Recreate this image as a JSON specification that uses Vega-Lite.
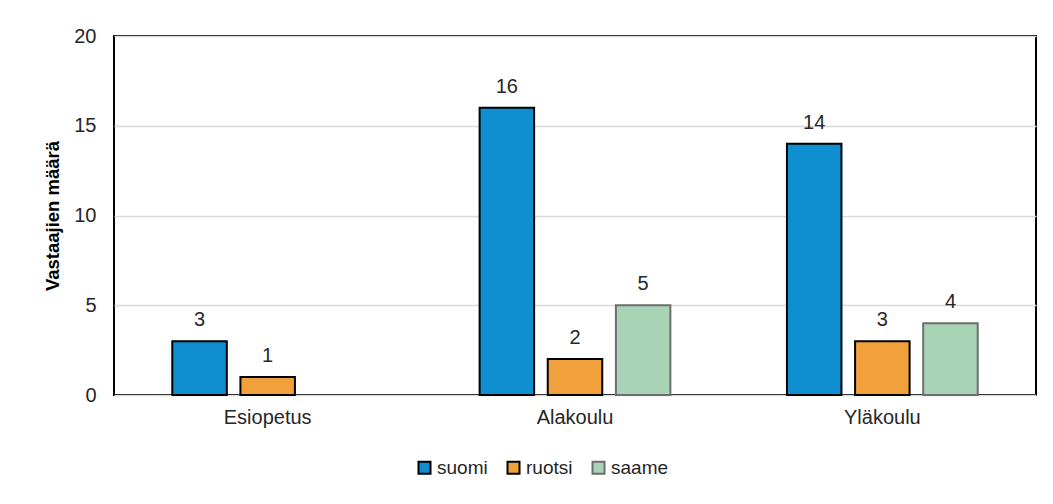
{
  "$schema": "https://vega.github.io/schema/vega-lite/v6.json",
  "autosize": "none",
  "width": 922,
  "height": 359,
  "padding": {"left": 114, "top": 36, "right": 17, "bottom": 109},
  "background": "white",
  "config": {
    "font": "Liberation Sans Narrow, Arial Narrow, Liberation Sans, sans-serif",
    "view": {"stroke": "black", "strokeWidth": 2},
    "axis": {"labelColor": "#262626", "titleColor": "#000000"}
  },
  "data": {
    "values": [
      {"vaihe": "Esiopetus", "kieli": "suomi", "n": 3},
      {"vaihe": "Esiopetus", "kieli": "ruotsi", "n": 1},
      {"vaihe": "Alakoulu", "kieli": "suomi", "n": 16},
      {"vaihe": "Alakoulu", "kieli": "ruotsi", "n": 2},
      {"vaihe": "Alakoulu", "kieli": "saame", "n": 5},
      {"vaihe": "Yläkoulu", "kieli": "suomi", "n": 14},
      {"vaihe": "Yläkoulu", "kieli": "ruotsi", "n": 3},
      {"vaihe": "Yläkoulu", "kieli": "saame", "n": 4}
    ]
  },
  "encoding": {
    "x": {
      "field": "vaihe", "type": "nominal",
      "sort": ["Esiopetus", "Alakoulu", "Yläkoulu"],
      "scale": {"paddingInner": 0.335, "paddingOuter": 0.1675},
      "axis": {"title": null, "labelAngle": 0, "labelFontSize": 20, "labelPadding": 12, "ticks": false, "domain": false, "grid": false}
    },
    "xOffset": {
      "field": "kieli", "type": "nominal",
      "sort": ["suomi", "ruotsi", "saame"],
      "scale": {"domain": ["suomi", "ruotsi", "saame"], "paddingInner": 0.2, "paddingOuter": 0.1}
    },
    "y": {
      "field": "n", "type": "quantitative",
      "scale": {"domain": [0, 20]},
      "axis": {
        "title": "Vastaajien määrä", "titleFontSize": 18.5, "titleFontWeight": "bold", "titlePadding": 11,
        "values": [0, 5, 10, 15, 20], "labelFontSize": 20, "labelPadding": 18, "ticks": false, "domain": false,
        "grid": true, "gridColor": "#D9D9D9", "gridWidth": 1.5
      }
    }
  },
  "layer": [
    {
      "mark": {"type": "bar", "stroke": "black", "strokeWidth": 2},
      "encoding": {
        "color": {
          "field": "kieli", "type": "nominal",
          "scale": {"domain": ["suomi", "ruotsi", "saame"], "range": ["#0F8FD0", "#F0A13C", "#A9D3B5"]},
          "legend": {
            "title": null, "orient": "none", "direction": "horizontal",
            "legendX": 301, "legendY": 422,
            "symbolType": "square", "symbolSize": 144, "symbolStrokeColor": "black", "symbolStrokeWidth": 2,
            "symbolOpacity": 1, "labelFontSize": 19, "labelColor": "#262626", "labelOffset": 3, "columnPadding": 15
          }
        },
        "stroke": {
          "field": "kieli", "type": "nominal",
          "scale": {"domain": ["suomi", "ruotsi", "saame"], "range": ["#000000", "#000000", "#6E6E6E"]},
          "legend": null
        },
        "strokeWidth": {
          "field": "kieli", "type": "nominal",
          "scale": {"domain": ["suomi", "ruotsi", "saame"], "range": [2, 2, 1.2]},
          "legend": null
        }
      }
    },
    {
      "mark": {"type": "text", "baseline": "alphabetic", "dy": -15, "fontSize": 20, "color": "#262626"},
      "encoding": {"text": {"field": "n", "type": "quantitative"}}
    }
  ]
}
